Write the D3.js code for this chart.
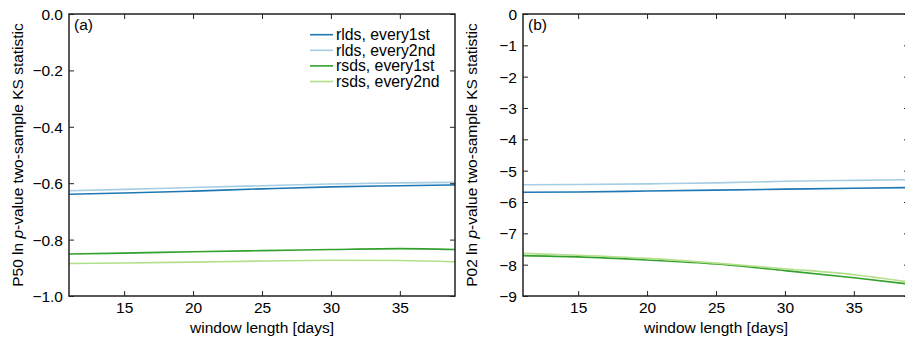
<!DOCTYPE html>
<html>
<head>
<meta charset="utf-8">
<script src="https://cdn.jsdelivr.net/npm/d3@7"></script>
<style>
  body { margin: 0; background: #fff; }
  svg { display: block; font-family: "Liberation Sans", Arial, sans-serif; }
</style>
</head>
<body>
<svg id="chart" width="905" height="338"></svg>
<script>
// window length [days]
const windowDays = [11, 15, 20, 25, 30, 35, 39];

// panel (a): P50
const p50_rlds1 = [-0.639, -0.635, -0.628, -0.620, -0.613, -0.609, -0.606];
const p50_rlds2 = [-0.627, -0.622, -0.615, -0.609, -0.603, -0.599, -0.597];
const p50_rsds1 = [-0.851, -0.848, -0.843, -0.839, -0.835, -0.832, -0.835];
const p50_rsds2 = [-0.885, -0.883, -0.880, -0.876, -0.873, -0.874, -0.879];

// panel (b): P02
const p02_rlds1 = [-5.69, -5.68, -5.65, -5.62, -5.59, -5.56, -5.54];
const p02_rlds2 = [-5.45, -5.44, -5.42, -5.39, -5.34, -5.31, -5.29];
const p02_rsds1 = [-7.71, -7.75, -7.85, -7.98, -8.19, -8.42, -8.62];
const p02_rsds2 = [-7.64, -7.70, -7.80, -7.95, -8.13, -8.32, -8.55];

const seriesNames = ["rlds, every1st", "rlds, every2nd", "rsds, every1st", "rsds, every2nd"];
const seriesColors = ["#1f78b4", "#a6cee3", "#33a02c", "#b2df8a"];

const xTicks = [15, 20, 25, 30, 35];
const yTicksA = [0, -0.2, -0.4, -0.6, -0.8, -1.0];
const yTicksB = [0, -1, -2, -3, -4, -5, -6, -7, -8, -9];

const svg = d3.select("#chart");
const plotTop = 14, plotBottom = 296, pw = 386;
const fs = 15.5;

function drawPanel(left, data, yDom, yTicks, fmt, ylab, tag, legend) {
  const x = d3.scaleLinear().domain([11, 39]).range([left, left + pw]);
  const y = d3.scaleLinear().domain(yDom).range([plotBottom, plotTop]);
  const g = svg.append("g");

  // clip for lines
  const cid = "clip" + tag;
  svg.append("clipPath").attr("id", cid).append("rect")
    .attr("x", left).attr("y", plotTop).attr("width", pw).attr("height", plotBottom - plotTop);

  const line = d3.line()
    .x((d, i) => x(windowDays[i]))
    .y(d => y(d))
    .curve(d3.curveMonotoneX);

  data.forEach((s, i) => {
    g.append("path")
      .attr("d", line(s))
      .attr("fill", "none")
      .attr("stroke", seriesColors[i])
      .attr("stroke-width", 1.6)
      .attr("clip-path", `url(#${cid})`);
  });

  // axes, ticks pointing inward
  const tl = 5;
  const ax = [
    [d3.axisBottom(x).tickValues(xTicks).tickFormat(d3.format("d")), plotBottom, true],
    [d3.axisTop(x).tickValues(xTicks).tickFormat(""), plotTop, false]
  ];
  ax.forEach(([a, ty, lab]) => {
    const ag = g.append("g").attr("transform", `translate(0,${ty})`)
      .call(a.tickSizeInner(-tl).tickSizeOuter(0));
    ag.select(".domain").remove();
    ag.selectAll("line").attr("stroke", "#222").attr("stroke-width", 1);
    ag.selectAll("text").attr("font-size", fs).attr("fill", "#000")
      .attr("font-family", "Liberation Sans, Arial, sans-serif");
    if (lab) ag.selectAll("text").attr("y", 6).attr("dy", "0.71em");
  });
  const ay = [
    [d3.axisLeft(y).tickValues(yTicks).tickFormat(d3.format(fmt)), left, true],
    [d3.axisRight(y).tickValues(yTicks).tickFormat(""), left + pw, false]
  ];
  ay.forEach(([a, tx, lab]) => {
    const ag = g.append("g").attr("transform", `translate(${tx},0)`)
      .call(a.tickSizeInner(-tl).tickSizeOuter(0));
    ag.select(".domain").remove();
    ag.selectAll("line").attr("stroke", "#222").attr("stroke-width", 1);
    ag.selectAll("text").attr("font-size", fs).attr("fill", "#000")
      .attr("font-family", "Liberation Sans, Arial, sans-serif");
    if (lab) ag.selectAll("text").attr("x", -6).attr("dy", "0.36em");
  });

  // frame
  g.append("rect")
    .attr("x", left).attr("y", plotTop).attr("width", pw).attr("height", plotBottom - plotTop)
    .attr("fill", "none").attr("stroke", "#222").attr("stroke-width", 1.5);

  g.append("text")
    .attr("x", left + 5).attr("y", 30)
    .attr("font-size", fs)
    .text(`(${tag})`);

  g.append("text")
    .attr("x", (left + left + pw) / 2).attr("y", 333)
    .attr("text-anchor", "middle")
    .attr("font-size", fs)
    .text("window length [days]");

  const yl = g.append("text")
    .attr("transform", `translate(${left - 46},${(plotTop + plotBottom) / 2}) rotate(-90)`)
    .attr("text-anchor", "middle")
    .attr("font-size", fs);
  yl.append("tspan").text(ylab + " ln ");
  yl.append("tspan").attr("font-style", "italic").text("p");
  yl.append("tspan").text("-value two-sample KS statistic");

  if (legend) {
    const lg = g.append("g");
    seriesNames.forEach((n, i) => {
      const ly = 34.7 + i * 15.6;
      lg.append("line")
        .attr("x1", 310).attr("x2", 333).attr("y1", ly).attr("y2", ly)
        .attr("stroke", seriesColors[i]).attr("stroke-width", 1.6);
      lg.append("text")
        .attr("x", 336).attr("y", ly + 5.2)
        .attr("font-size", 15.8)
        .text(n);
    });
  }
}

drawPanel(69, [p50_rlds1, p50_rlds2, p50_rsds1, p50_rsds2], [-1, 0], yTicksA, ".1f", "P50", "a", true);
drawPanel(523, [p02_rlds1, p02_rlds2, p02_rsds1, p02_rsds2], [-9, 0], yTicksB, "d", "P02", "b", false);
</script>
</body>
</html>
